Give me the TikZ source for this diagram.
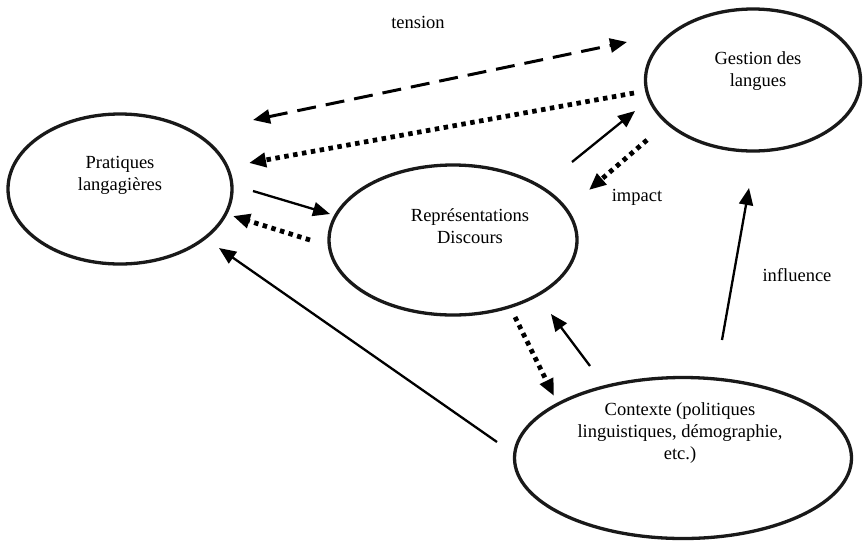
\documentclass[tikz,border=0pt]{standalone}
\usepackage{fontspec}
\setmainfont{Liberation Serif}
\usetikzlibrary{shapes.geometric,arrows.meta}
\begin{document}
\begin{tikzpicture}[x=1pt,y=-1pt,
  elli/.style={ellipse,draw=black!90,line width=3.3pt,inner sep=0pt},
  txt/.style={align=center,inner sep=0pt,font=\fontsize{18.5}{22}\selectfont},
  tip/.style={-{Triangle[length=17pt,width=14pt]}},
  solidarr/.style={tip,line width=2.3pt},
  dotarr/.style={tip,line width=4.8pt,dash pattern=on 4.5pt off 4.5pt},
  dasharr/.style={{Triangle[length=17pt,width=14pt]}-{Triangle[length=17pt,width=14pt]},line width=3pt,dash pattern=on 19pt off 10pt}]
\useasboundingbox (0,0) rectangle (864,542);
% ellipses
\node[elli,minimum width=224pt,minimum height=150pt] (prat) at (120,189) {};
\node[elli,minimum width=248pt,minimum height=150pt] (repr) at (453,240) {};
\node[elli,minimum width=215pt,minimum height=142pt] (gest) at (753,80) {};
\node[elli,minimum width=337pt,minimum height=161pt] (cont) at (683,458) {};
% texts
\node[txt] (pratt) at (120,175) {Pratiques\\langagières};
\node[txt] (reprt) at (470,226) {Représentations\\Discours};
\node[txt] (gestt) at (758,71) {Gestion des\\langues};
\node[txt] (contt) at (680,433) {Contexte (politiques\\linguistiques, démographie,\\etc.)};
% labels
\node[txt] (tension) at (418,22) {tension};
\node[txt] (impact) at (637,197) {impact};
\node[txt] (influence) at (797,275) {influence};
% coordinates
\coordinate (a1) at (253,120);
\coordinate (a2) at (627,42);
\coordinate (b1) at (634,93);
\coordinate (b2) at (249,163);
\coordinate (c1) at (253,191);
\coordinate (c2) at (330,214);
\coordinate (d1) at (310,240);
\coordinate (d2) at (233,216);
\coordinate (e1) at (572,162);
\coordinate (e2) at (635,111);
\coordinate (f1) at (647,140);
\coordinate (f2) at (589,190);
\coordinate (g1) at (515,317);
\coordinate (g2) at (554,396);
\coordinate (h1) at (590,366);
\coordinate (h2) at (551,314);
\coordinate (i1) at (722,340);
\coordinate (i2) at (749,188);
\coordinate (j1) at (497,442);
\coordinate (j2) at (219,248);
% connectors
\draw[dasharr] (a1) -- (a2);
\draw[dotarr] (b1) -- (b2);
\draw[solidarr] (c1) -- (c2);
\draw[dotarr] (d1) -- (d2);
\draw[solidarr] (e1) -- (e2);
\draw[dotarr] (f1) -- (f2);
\draw[dotarr] (g1) -- (g2);
\draw[solidarr] (h1) -- (h2);
\draw[solidarr] (i1) -- (i2);
\draw[solidarr] (j1) -- (j2);
\end{tikzpicture}
\end{document}
